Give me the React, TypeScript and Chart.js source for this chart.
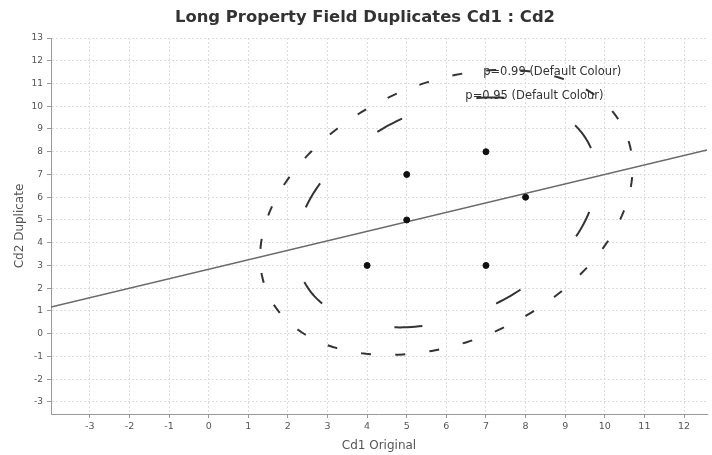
import React, { useEffect, useRef } from "react";
import { Chart, registerables } from "chart.js";

Chart.register(...registerables);

const TITLE = "Long Property Field Duplicates Cd1 : Cd2";
const X_TITLE = "Cd1 Original";
const Y_TITLE = "Cd2 Duplicate";

// observations
const cd1Original = [4, 5, 5, 7, 7, 8];
const cd2Duplicate = [3, 7, 5, 8, 3, 6];

// confidence ellipses (chi-square quantiles, 2 d.o.f.)
const ellipseLevels = ["p=0.99", "p=0.95"];
const ellipseChiSquare = [9.21, 5.991];
const ellipseLabels = ["p=0.99 (Default Colour)", "p=0.95 (Default Colour)"];
const ellipseLabelX = [6.93, 6.48];
const ellipseLabelY = [11.52, 10.46];

// axis ranges
const X_MIN = -3.98;
const X_MAX = 12.58;
const Y_MIN = -3.53;
const Y_MAX = 13;

function mean(a: number[]) {
  return a.reduce((s, v) => s + v, 0) / a.length;
}

function stats() {
  const mx = mean(cd1Original);
  const my = mean(cd2Duplicate);
  let sxx = 0, syy = 0, sxy = 0;
  for (let i = 0; i < cd1Original.length; i++) {
    const dx = cd1Original[i] - mx;
    const dy = cd2Duplicate[i] - my;
    sxx += dx * dx;
    syy += dy * dy;
    sxy += dx * dy;
  }
  const n1 = cd1Original.length - 1;
  return { mx, my, sxx, syy, sxy, vx: sxx / n1, vy: syy / n1, cxy: sxy / n1 };
}

function ellipsePoints(k: number) {
  const { mx, my, vx, vy, cxy } = stats();
  const a = Math.sqrt(vx);
  const b = cxy / a;
  const c = Math.sqrt(vy - b * b);
  const s = Math.sqrt(k);
  const pts: { x: number; y: number }[] = [];
  const N = 240;
  for (let i = 0; i <= N; i++) {
    const t = (i / N) * Math.PI * 2;
    pts.push({ x: mx + s * a * Math.cos(t), y: my + s * (b * Math.cos(t) + c * Math.sin(t)) });
  }
  return pts;
}

function regressionPoints() {
  const { mx, my, sxx, sxy } = stats();
  const slope = sxy / sxx;
  const icpt = my - slope * mx;
  return [
    { x: X_MIN, y: icpt + slope * X_MIN },
    { x: X_MAX, y: icpt + slope * X_MAX },
  ];
}

const FONT = "'DejaVu Sans', Arial, Helvetica, sans-serif";

export default function App() {
  const ref = useRef<HTMLCanvasElement>(null);

  useEffect(() => {
    if (!ref.current) return;

    const overlay = {
      id: "overlay",
      afterDraw(chart: any) {
        const ctx = chart.ctx;
        const xs = chart.scales.x;
        const ys = chart.scales.y;
        ctx.save();
        ctx.fillStyle = "#333";
        ctx.font = `bold 16.4px ${FONT}`;
        ctx.textAlign = "center";
        ctx.textBaseline = "middle";
        ctx.fillText(TITLE, 365, 18);
        ctx.font = `11.5px ${FONT}`;
        ctx.textAlign = "left";
        ctx.fillStyle = "#333";
        for (let i = 0; i < ellipseLabels.length; i++) {
          ctx.fillText(
            ellipseLabels[i],
            xs.getPixelForValue(ellipseLabelX[i]),
            ys.getPixelForValue(ellipseLabelY[i])
          );
        }
        ctx.restore();
      },
    };

    const chart = new Chart(ref.current, {
      type: "scatter",
      data: {
        datasets: [
          {
            label: "Regression",
            data: regressionPoints(),
            showLine: true,
            borderColor: "#6a6a6a",
            borderWidth: 1.4,
            pointRadius: 0,
            order: 3,
          },
          {
            label: ellipseLevels[0],
            data: ellipsePoints(ellipseChiSquare[0]),
            showLine: true,
            borderColor: "#333",
            borderWidth: 2,
            borderDash: [10, 24.3],
            borderDashOffset: 17,
            pointRadius: 0,
            tension: 0,
            order: 2,
          },
          {
            label: ellipseLevels[1],
            data: ellipsePoints(ellipseChiSquare[1]),
            showLine: true,
            borderColor: "#333",
            borderWidth: 2,
            borderDash: [28, 77.5],
            borderDashOffset: 76.5,
            pointRadius: 0,
            tension: 0,
            order: 2,
          },
          {
            label: "Cd1 : Cd2",
            data: cd1Original.map((x, i) => ({ x, y: cd2Duplicate[i] })),
            backgroundColor: "#111",
            borderColor: "#111",
            pointRadius: 3,
            order: 1,
          },
        ],
      },
      options: {
        responsive: false,
        devicePixelRatio: 1,
        animation: false,
        layout: { padding: { top: 38, left: 0, right: 0, bottom: 0 } },
        plugins: {
          legend: { display: false },
          title: { display: false },
          tooltip: { enabled: false },
        },
        scales: {
          x: {
            type: "linear",
            min: X_MIN,
            max: X_MAX,
            afterFit: (s: any) => {
              s.height = 41;
            },
            ticks: {
              stepSize: 1,
              includeBounds: false,
              color: "#555",
              font: { family: FONT, size: 9.5 },
              padding: 3,
              maxRotation: 0,
            },
            grid: { color: "#dcdcdc", tickColor: "#999", tickLength: 4 },
            border: { display: true, color: "#999", width: 1, dash: [2, 2] },
            title: {
              display: true,
              text: X_TITLE,
              color: "#555",
              font: { family: FONT, size: 12 },
              padding: { top: 0, bottom: 2 },
            },
          },
          y: {
            type: "linear",
            min: Y_MIN,
            max: Y_MAX,
            afterFit: (s: any) => {
              s.width = 51;
            },
            ticks: {
              stepSize: 1,
              includeBounds: false,
              color: "#555",
              font: { family: FONT, size: 9 },
              padding: 4,
            },
            grid: { color: "#dcdcdc", tickColor: "#999", tickLength: 4 },
            border: { display: true, color: "#999", width: 1, dash: [2, 2] },
            title: {
              display: true,
              text: Y_TITLE,
              color: "#555",
              font: { family: FONT, size: 12 },
              padding: { top: 13, bottom: 0 },
            },
          },
        },
      },
      plugins: [overlay],
    } as any);

    return () => chart.destroy();
  }, []);

  return (
    <div style={{ position: "fixed", left: 0, top: 0, width: 712, height: 455, background: "#fff" }}>
      <canvas ref={ref} width={712} height={455} style={{ display: "block" }} />
    </div>
  );
}
